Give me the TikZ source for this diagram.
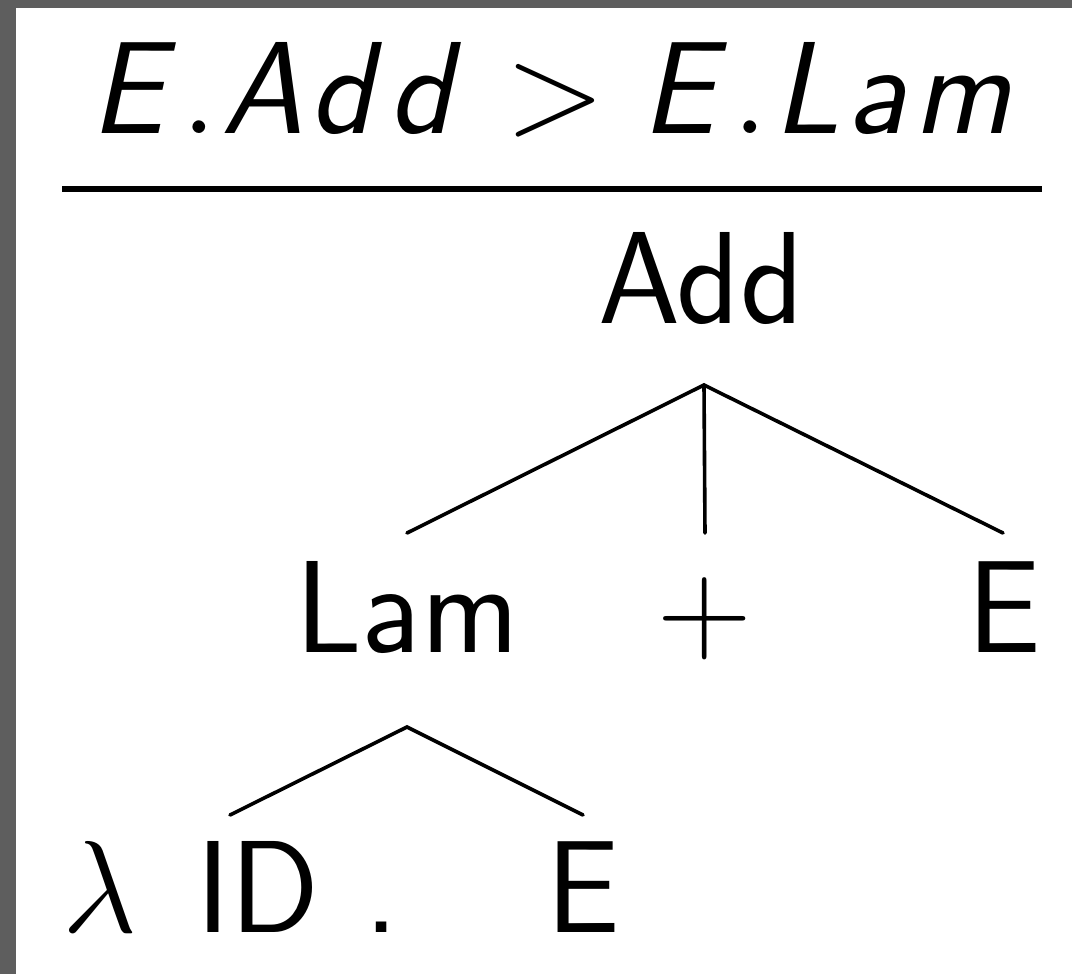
\RequirePackage{fix-cm}
\documentclass[tikz,border=0pt]{standalone}
\usepackage{tikz}
\usetikzlibrary{calc}
\newcommand{\sfit}[1]{\mbox{\slshape #1}}
\newcommand{\lsp}{\kern1.5pt}
\definecolor{frame}{RGB}{94,94,94}
\tikzset{
  lbl/.style={inner sep=0pt, anchor=base, font=\fontsize{32.8}{40}\selectfont\sffamily},
  branch/.style={line width=0.9pt, line cap=round}
}

\begin{document}
\begin{tikzpicture}[x=0.25pt, y=-0.25pt]
            \useasboundingbox (0,0) rectangle (1072,974);
            \fill[frame] (0,0) rectangle (1072,974);
            \fill[white] (16,8) rectangle (1072,974);
            % rule
            \node[lbl, anchor=base west] (rule) at (90,133)
              {$\sfit{E\/}\kern1.1pt.\kern1.1pt\sfit{A\/\lsp d\/\lsp d\/}\kern2pt > \sfit{E\/}\kern1.1pt.\kern1.5pt\sfit{L\/\lsp a\/\lsp m\/}$};
            \draw[line width=1.5pt] (62,189) -- (1042,189);
            % tree joints
            \coordinate (addtip) at (704,385);
            \coordinate (lamtop) at (407,533);
            \coordinate (plustop) at (705,533);
            \coordinate (etop) at (1003,533);
            \coordinate (lamtip) at (407,727);
            \coordinate (idtop) at (230,815);
            \coordinate (eleaftop) at (583,815);
            \draw[branch] (lamtop) -- (addtip) -- (etop);
            \draw[branch] (addtip) -- (plustop);
            \draw[branch] (idtop) -- (lamtip) -- (eleaftop);
            % labels
            \node[lbl] (add) at (701,323) {Add};
            \node[lbl] (lam) at (407,652) {Lam};
            \node[lbl, anchor=center] (plus) at (705,619) {$+$};
            \node[lbl] (e) at (1004,652) {E};
            \node[lbl, anchor=base west] (lid) at (62,932) {$\lambda$\hspace{4.5pt} ID\hspace{1pt} .};
            \node[lbl] (eleaf) at (583,932) {E};
        \end{tikzpicture}
\end{document}
